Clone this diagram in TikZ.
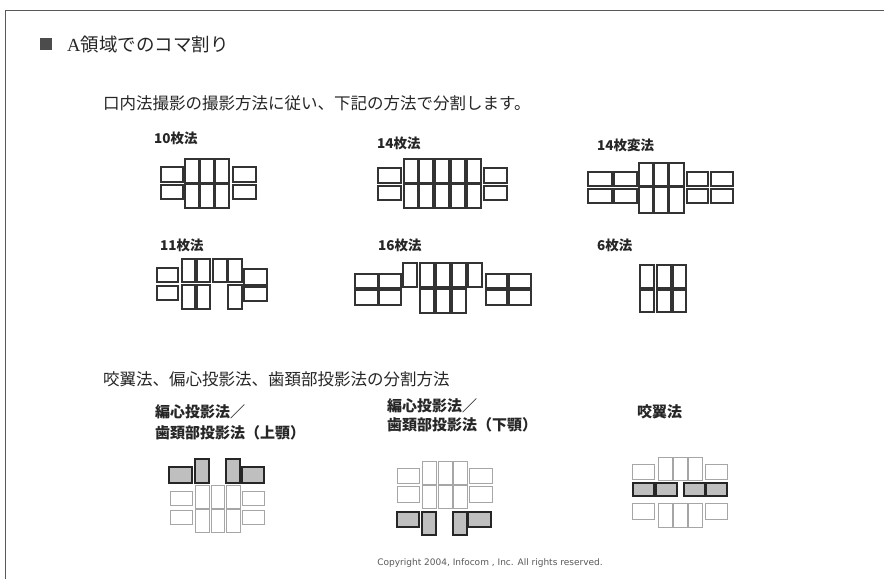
\documentclass[tikz,border=0pt]{standalone}
\usepackage{fontspec}
\setmainfont{Liberation Serif}
\newfontfamily\cjk{Noto Sans CJK JP}
\newfontfamily\copyfont{DejaVu Sans}
\newcommand\bx[5]{\draw[#1] (#2,#3) rectangle (#4,#5);}
\begin{document}
\begin{tikzpicture}[x=1pt,y=-1pt,
  frameline/.style={draw=black!65, line width=0.9pt},
  box/.style={draw=black!80, line width=1.1pt},
  lbox/.style={draw=black!35, line width=1pt},
  dbox/.style={draw=black!85, line width=1.5pt, fill=black!25},
  lbl/.style={anchor=west, inner sep=0pt, font=\cjk\bfseries\fontsize{13.5}{15}\selectfont, text=black!85},
  blbl/.style={anchor=west, inner sep=0pt, font=\cjk\bfseries\fontsize{15}{17}\selectfont, text=black!85},
  head/.style={anchor=west, inner sep=0pt, font=\cjk\fontsize{16.5}{18}\selectfont, text=black!85}]
\useasboundingbox (0,0) rectangle (884,579);
\fill[white] (0,0) rectangle (884,579);
% frame
\coordinate (fb) at (5,579);
\coordinate (fc) at (5,10);
\coordinate (fe) at (884,10);
\draw[frameline] (fb) -- (fc) -- (fe);
% title
\fill[black!70] (40,38) rectangle (52,50);
\node[anchor=west, inner sep=0pt, text=black!85] (title) at (67,44)
  {\fontsize{18.5}{20}\selectfont A\cjk 領域でのコマ割り};
\node[head] (sub) at (103,103) {口内法撮影の撮影方法に従い、下記の方法で分割します。};
\node[head] (sub2) at (103,379) {咬翼法、偏心投影法、歯頚部投影法の分割方法};
% labels
\node[lbl] (l10) at (154,138) {10枚法};
\node[lbl] (l14) at (377,143) {14枚法};
\node[lbl] (l14v) at (597,145) {14枚変法};
\node[lbl] (l11) at (160,245) {11枚法};
\node[lbl] (l16) at (378,245) {16枚法};
\node[lbl] (l6) at (597,245) {6枚法};
\node[blbl] (g1a) at (155,412) {編心投影法／};
\node[blbl] (g1b) at (155,433) {歯頚部投影法（上顎）};
\node[blbl] (g2a) at (387,406) {編心投影法／};
\node[blbl] (g2b) at (387,425) {歯頚部投影法（下顎）};
\node[blbl] (g3) at (637,412) {咬翼法};
\node[inner sep=0pt, text=black!65, font=\copyfont\fontsize{9}{11}\selectfont] (copy) at (490,563)
  {Copyright 2004, Infocom , Inc. All rights reserved.};
% 10枚法
\bx{box}{161}{167}{183}{182}\bx{box}{161}{185}{183}{199}
\foreach \a/\b in {185/199,200/214,215/229}{\bx{box}{\a}{159}{\b}{183}\bx{box}{\a}{184}{\b}{208}}
\bx{box}{233}{167}{256}{182}\bx{box}{233}{185}{256}{199}
% 14枚法
\bx{box}{378}{168}{401}{183}\bx{box}{378}{186}{401}{200}
\foreach \a/\b in {404/418,419/433,435/449,451/465,467/481}{\bx{box}{\a}{159}{\b}{183}\bx{box}{\a}{184}{\b}{208}}
\bx{box}{484}{168}{507}{183}\bx{box}{484}{186}{507}{200}
% 14枚変法
\foreach \a/\b in {588/612,614/637,687/708,711/733}{\bx{box}{\a}{172}{\b}{186}\bx{box}{\a}{189}{\b}{203}}
\foreach \a/\b in {639/653,654/668,669/684}{\bx{box}{\a}{163}{\b}{186}\bx{box}{\a}{187}{\b}{213}}
% 11枚法
\bx{box}{157}{268}{178}{282}\bx{box}{157}{286}{178}{300}
\foreach \a/\b in {182/195,197/210,213/227,228/242}{\bx{box}{\a}{259}{\b}{282}}
\foreach \a/\b in {182/195,197/210,228/242}{\bx{box}{\a}{285}{\b}{309}}
\bx{box}{244}{269}{267}{285}\bx{box}{244}{287}{267}{301}
% 16枚法
\foreach \a/\b in {355/378,379/401,486/507,509/531}{\bx{box}{\a}{274}{\b}{288}\bx{box}{\a}{290}{\b}{305}}
\foreach \a/\b in {403/417,420/434,436/450,452/466,468/482}{\bx{box}{\a}{263}{\b}{287}}
\foreach \a/\b in {420/434,436/450,452/466}{\bx{box}{\a}{289}{\b}{313}}
% 6枚法
\foreach \a/\b in {640/654,657/671,673/686}{\bx{box}{\a}{265}{\b}{288}\bx{box}{\a}{290}{\b}{312}}
% group 1
\bx{lbox}{170}{491}{192}{505}\bx{lbox}{170}{510}{192}{524}
\bx{lbox}{242}{491}{264}{505}\bx{lbox}{242}{510}{264}{524}
\foreach \a/\b in {195/209,211/224,226/240}{\bx{lbox}{\a}{485}{\b}{508}\bx{lbox}{\a}{509}{\b}{532}}
\bx{dbox}{169}{467}{192}{483}\bx{dbox}{195}{459}{209}{483}
\bx{dbox}{226}{459}{240}{483}\bx{dbox}{242}{467}{264}{483}
% group 2
\bx{lbox}{397}{468}{419}{483}\bx{lbox}{397}{486}{419}{502}
\bx{lbox}{469}{468}{492}{483}\bx{lbox}{469}{486}{492}{502}
\foreach \a/\b in {422/436,438/452,453/467}{\bx{lbox}{\a}{461}{\b}{484}\bx{lbox}{\a}{485}{\b}{508}}
\bx{dbox}{397}{512}{419}{527}\bx{dbox}{422}{512}{436}{535}
\bx{dbox}{453}{512}{467}{535}\bx{dbox}{468}{512}{491}{527}
% group 3
\bx{lbox}{632}{464}{654}{479}\bx{lbox}{705}{464}{727}{479}
\bx{lbox}{632}{503}{654}{519}\bx{lbox}{705}{503}{727}{519}
\foreach \a/\b in {658/672,673/687,688/702}{\bx{lbox}{\a}{457}{\b}{480}\bx{lbox}{\a}{503}{\b}{527}}
\foreach \a/\b in {633/654,656/677,684/705,706/727}{\bx{dbox}{\a}{483}{\b}{496}}
\end{tikzpicture}
\end{document}
